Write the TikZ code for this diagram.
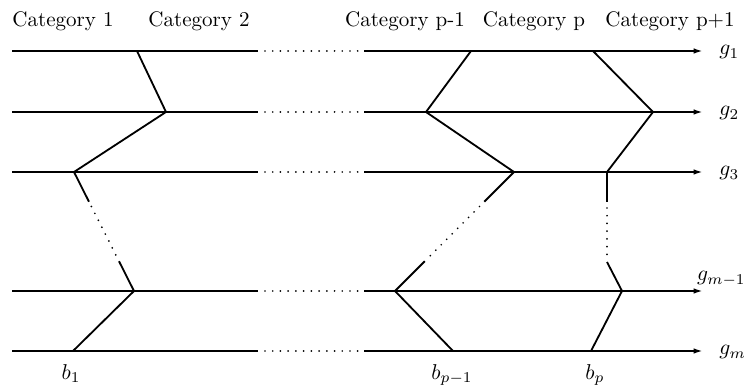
\documentclass[tikz,border=0pt]{standalone}
\usetikzlibrary{arrows.meta,calc}
\begin{document}
\begin{tikzpicture}[x=0.466pt,y=-0.466pt,
  level/.style={line width=0.85pt},
  route/.style={line width=0.85pt},
  dotline/.style={line width=0.9pt,line cap=round,dash pattern=on 0pt off 3.6pt},
  tip/.style={-{Latex[length=4.4pt,width=2.6pt]}},
  cat/.style={anchor=base,inner sep=0pt,font=\fontsize{9.8}{12}\selectfont},
  lab/.style={inner sep=0pt}]
\path[use as bounding box] (0,0) rectangle (747,388);

% the horizontal levels g_1 ... g_m
\foreach \n/\y in {1/51,2/112,3/172,4/291,5/351}{
  \coordinate (L\n) at (12,\y);
  \coordinate (A\n) at (258,\y);
  \coordinate (D\n) at (265,\y);
  \coordinate (E\n) at (358,\y);
  \coordinate (B\n) at (364,\y);
  \coordinate (R\n) at (703,\y);
  \draw[level] (L\n) -- (A\n);
  \draw[dotline] (D\n) -- (E\n);
  \draw[level,tip] (B\n) -- (R\n);
}

% category headings
\node[cat] (cat1) at (63,27) {Category 1};
\node[cat] (cat2) at (199,27) {Category 2};
\node[cat] (catpm) at (405,27) {Category p-1};
\node[cat] (catp) at (534,27) {Category p};
\node[cat] (catpp) at (670,27) {Category p+1};

% level labels
\node[lab,anchor=base west] (g1) at (719,55) {$g_1$};
\node[lab,anchor=base west] (g2) at (719,116) {$g_2$};
\node[lab,anchor=base west] (g3) at (719,176) {$g_3$};
\node[lab,anchor=base east] (gm1) at (746,281) {$g_{m-1}$};
\node[lab,anchor=base west] (gm) at (719,355) {$g_m$};

% boundary labels
\node[lab,anchor=base] (b1) at (71,379) {$b_1$};
\node[lab,anchor=base] (bpm) at (452,379) {$b_{p-1}$};
\node[lab,anchor=base] (bp) at (595,379) {$b_p$};

% boundary b_1
\coordinate (a1) at (137,51);
\coordinate (a2) at (166,112);
\coordinate (a3) at (74,172);
\coordinate (a4) at (134,291);
\coordinate (a5) at (73,351);
\draw[route] (a1) -- (a2) -- (a3) -- ($(a3)!0.25!(a4)$);
\draw[dotline] ($(a3)!0.29!(a4)$) -- ($(a3)!0.71!(a4)$);
\draw[route] ($(a3)!0.75!(a4)$) -- (a4) -- (a5);

% boundary b_{p-1}
\coordinate (c1) at (471,51);
\coordinate (c2) at (426,112);
\coordinate (c3) at (514,172);
\coordinate (c4) at (395,291);
\coordinate (c5) at (453,351);
\draw[route] (c1) -- (c2) -- (c3) -- ($(c3)!0.25!(c4)$);
\draw[dotline] ($(c3)!0.29!(c4)$) -- ($(c3)!0.71!(c4)$);
\draw[route] ($(c3)!0.75!(c4)$) -- (c4) -- (c5);

% boundary b_p
\coordinate (d1) at (593,51);
\coordinate (d2) at (653,112);
\coordinate (d3) at (607,172);
\coordinate (d3a) at (607,202);
\coordinate (d3b) at (607,262);
\coordinate (d4) at (622,291);
\coordinate (d5) at (591,351);
\draw[route] (d1) -- (d2) -- (d3) -- (d3a);
\draw[dotline] ($(d3a)+(0,6)$) -- ($(d3b)+(0,-4)$);
\draw[route] (d3b) -- (d4) -- (d5);
\end{tikzpicture}
\end{document}
